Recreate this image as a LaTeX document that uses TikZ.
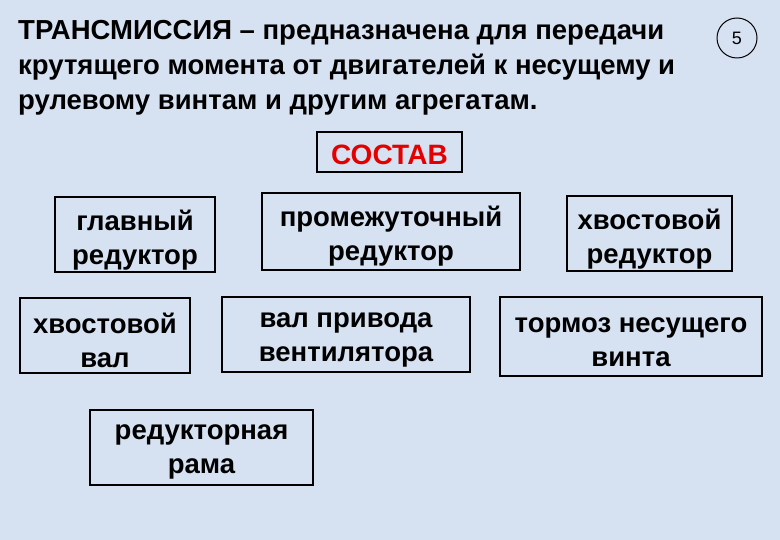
\documentclass[tikz,border=0pt]{standalone}
\usepackage{fontspec}
\setmainfont{Liberation Sans}
\definecolor{bgc}{RGB}{214,226,242}
\begin{document}
\begin{tikzpicture}[x=1pt,y=-1pt,
 bx/.style={draw=black,line width=1.6pt,inner sep=0pt},
 txt/.style={align=center,font=\bfseries\fontsize{27.5}{34}\selectfont}]
\fill[bgc] (0,0) rectangle (780,540);
\useasboundingbox (0,0) rectangle (780,540);
\node[anchor=north west,align=left,font=\bfseries\fontsize{27.5}{35}\selectfont,inner sep=0pt] (title) at (18,20)
 {ТРАНСМИССИЯ – предназначена для передачи\\крутящего момента от двигателей к несущему и\\рулевому винтам и другим агрегатам.};
\node[draw,circle,line width=1pt,minimum size=40pt,inner sep=0pt,font=\fontsize{18}{18}\selectfont] (num) at (737,38) {5};
\draw[bx] (317,132) rectangle (462,172);
\node[font=\bfseries\fontsize{28}{28}\selectfont,text=red!90!black] (sostav) at (389.5,155) {СОСТАВ};
\draw[bx] (55,197) rectangle (215,272);
\node[txt] (a) at (135,240) {главный\\редуктор};
\draw[bx] (262,193) rectangle (520,270);
\node[txt] (b) at (391,236) {промежуточный\\редуктор};
\draw[bx] (567,196) rectangle (732,271);
\node[txt] (c) at (649.5,239) {хвостовой\\редуктор};
\draw[bx] (20,298) rectangle (190,373);
\node[txt] (d) at (105,340) {хвостовой\\вал};
\draw[bx] (222,297) rectangle (470,372);
\node[txt] (e) at (346,340) {вал привода\\вентилятора};
\draw[bx] (500,297) rectangle (762,376);
\node[txt] (f) at (631,342) {тормоз несущего\\винта};
\draw[bx] (90,410) rectangle (313,485);
\node[txt] (g) at (201.5,452) {редукторная\\рама};
\end{tikzpicture}
\end{document}
